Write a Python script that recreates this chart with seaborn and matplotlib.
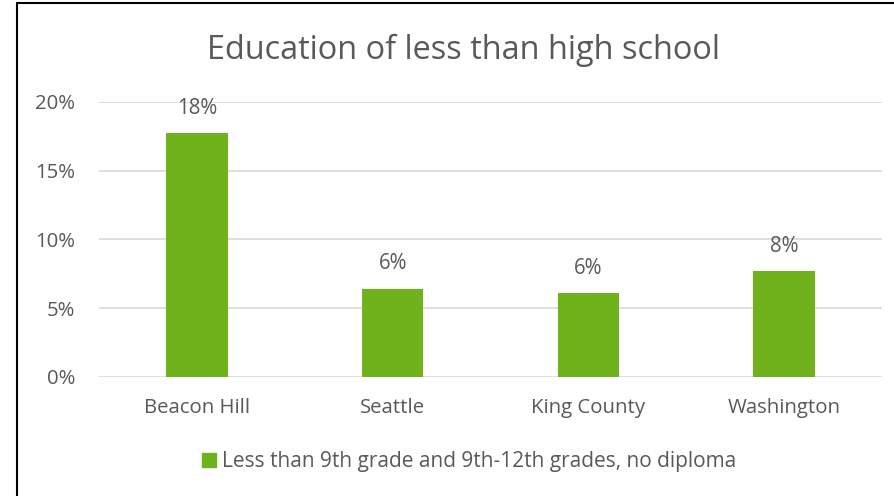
import matplotlib
matplotlib.use("Agg")
import matplotlib.pyplot as plt
import seaborn as sns
import pandas as pd
from matplotlib.lines import Line2D
from matplotlib.patches import Rectangle
from matplotlib.ticker import FuncFormatter

categories = ["Beacon Hill", "Seattle", "King County", "Washington"]
values = [17.7, 6.4, 6.1, 7.7]
value_labels = ["18%", "6%", "6%", "8%"]
series_name = "Less than 9th grade and 9th-12th grades, no diploma"
title = "Education of less than high school"
yticks = [0, 5, 10, 15, 20]

sns.set_theme(style="white")
plt.rcParams['font.family'] = ['Open Sans', 'DejaVu Sans']

GREEN = "#6FB21C"
TXT = "#595959"
GRID = "#D9D9D9"

W, H = 894, 496
fig = plt.figure(figsize=(W / 100, H / 100), dpi=100)
ax = fig.add_axes([99 / W, 1 - 377 / H, (882 - 99) / W, (377 - 101.7) / H])

df = pd.DataFrame({"category": categories, "value": values})
sns.barplot(data=df, x="category", y="value", color=GREEN, width=0.314,
            saturation=1, ax=ax, edgecolor="none")

ax.set_ylim(0, 20)
ax.set_yticks(yticks)
ax.yaxis.set_major_formatter(FuncFormatter(lambda v, p: f"{v:.0f}%"))
ax.set_xlim(-0.5, len(categories) - 0.5)
ax.set_xlabel("")
ax.set_ylabel("")
for s in ax.spines.values():
    s.set_visible(False)
ax.grid(axis="y", color=GRID, linewidth=1.2)
ax.set_axisbelow(True)
ax.tick_params(axis="both", length=0, labelsize=14.7, colors=TXT)
ax.tick_params(axis="y", pad=17)
ax.tick_params(axis="x", pad=15)

for i, (v, lab) in enumerate(zip(values, value_labels)):
    ax.annotate(lab, (i, v), xytext=(0, 18), textcoords="offset points",
                ha="center", va="center", fontsize=14.8, color=TXT)

fig.text(463 / W, 1 - 50 / H, title, ha="center", va="center",
         fontsize=23.4, color=TXT)

# legend
fig.patches.append(Rectangle((202 / W, 1 - 467 / H), 14 / W, 14 / H,
                             transform=fig.transFigure, color=GREEN))
fig.text(222 / W, 1 - 461 / H, series_name, ha="left", va="center",
         fontsize=15, color=TXT)

# outer border (left and top visible)
fig.add_artist(Line2D([17 / W, 17 / W], [0, 1 - 3 / H], transform=fig.transFigure,
                      color="black", linewidth=1.5))
fig.add_artist(Line2D([17 / W, 1], [1 - 3 / H, 1 - 3 / H], transform=fig.transFigure,
                      color="black", linewidth=1.5))

fig.savefig("out.png", dpi=100)
